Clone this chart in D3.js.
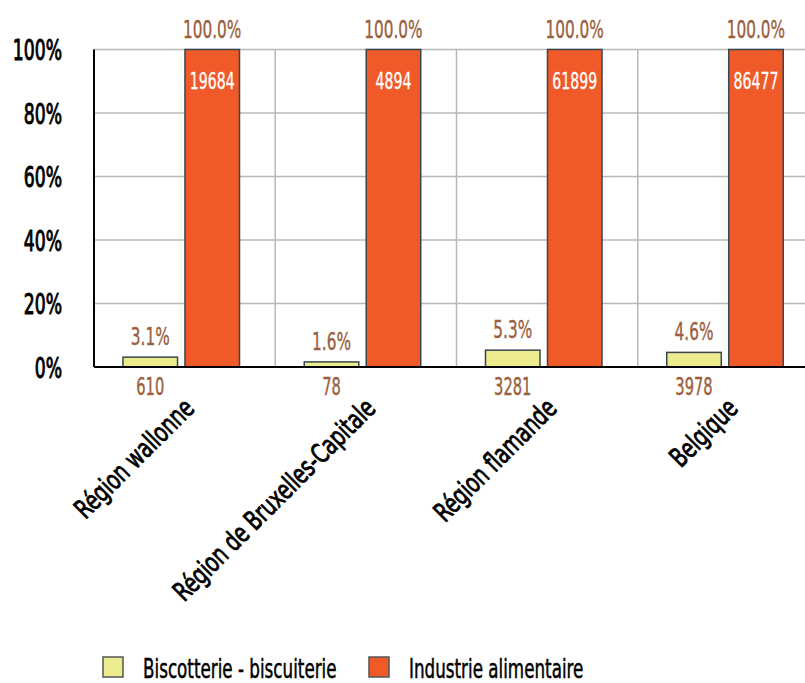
<!DOCTYPE html>
<html>
<head>
<meta charset="utf-8">
<script src="https://cdn.jsdelivr.net/npm/d3@7"></script>
<style>
  html, body { margin: 0; padding: 0; background: #fff; }
  svg { display: block; }
  text { font-family: "DejaVu Sans Condensed", "DejaVu Sans", sans-serif; }
</style>
</head>
<body>
<svg id="chart" width="805" height="683"></svg>
<script>
// Regions and the two series (share of each region's total, in %)
const categories = ["Région wallonne", "Région de Bruxelles-Capitale", "Région flamande", "Belgique"];
const seriesNames = ["Biscotterie - biscuiterie", "Industrie alimentaire"];
const biscuitPct = [3.1, 1.6, 5.3, 4.6];
const foodPct = [100.0, 100.0, 100.0, 100.0];
// Absolute counts printed with the bars
const biscuitCount = [610, 78, 3281, 3978];
const foodCount = [19684, 4894, 61899, 86477];
const yTicks = [0, 20, 40, 60, 80, 100];

const colors = { [seriesNames[0]]: "#ecec8e", [seriesNames[1]]: "#f05a28" };
const barStroke = "#38464f";
const valueColor = "#9a5f3e";

const svg = d3.select("#chart");

const plotLeft = 94, plotRight = 819, plotTop = 49.5, plotBottom = 367;

const y = d3.scaleLinear().domain([0, 100]).range([plotBottom, plotTop]);
const xc = d3.scaleBand().domain(categories).range([plotLeft, plotRight]).padding(0);
const x1 = d3.scaleBand().domain(seriesNames).range([29, 145.5]).paddingInner(0.12);

const rows = categories.map((c, i) => ({
  cat: c,
  values: [
    { s: seriesNames[0], pct: biscuitPct[i], count: biscuitCount[i] },
    { s: seriesNames[1], pct: foodPct[i], count: foodCount[i] }
  ]
}));

// helper: horizontally condensed text placed at (x, y)
function ctext(sel, x, yy, str, opts = {}) {
  const rot = opts.rotate ? ` rotate(${opts.rotate})` : "";
  const sx = opts.squeeze || 0.68;
  const fill = opts.fill || "#000";
  const t = sel.append("text")
    .attr("transform", `translate(${x},${yy})${rot} scale(${sx},1)`)
    .attr("text-anchor", opts.anchor || "middle")
    .attr("font-size", opts.size || 24)
    .attr("fill", fill)
    .text(str);
  if (opts.heavy) {
    t.attr("stroke", fill).attr("stroke-width", opts.heavy).attr("stroke-linejoin", "round");
  }
  return t;
}

// Grid
const grid = svg.append("g");
grid.selectAll("line.h").data(yTicks.filter(t => t > 0)).join("line")
  .attr("x1", plotLeft).attr("x2", 805)
  .attr("y1", d => y(d)).attr("y2", d => y(d))
  .attr("stroke", "#b8b8b8").attr("stroke-width", 1.5);
grid.selectAll("line.v").data(categories.slice(1)).join("line")
  .attr("x1", d => xc(d)).attr("x2", d => xc(d))
  .attr("y1", plotTop).attr("y2", plotBottom)
  .attr("stroke", "#b8b8b8").attr("stroke-width", 1.5);

// Y axis labels
const yl = svg.append("g");
yTicks.forEach(t => ctext(yl, 62, y(t) + 10.5, t + "%",
  { anchor: "end", size: 29, squeeze: 0.66, heavy: 1 }));

// Bars
const groups = svg.append("g").selectAll("g").data(rows).join("g")
  .attr("transform", d => `translate(${xc(d.cat)},0)`);

groups.selectAll("rect").data(d => d.values).join("rect")
  .attr("x", d => x1(d.s))
  .attr("width", x1.bandwidth())
  .attr("y", d => y(d.pct))
  .attr("height", d => y(0) - y(d.pct))
  .attr("fill", d => colors[d.s])
  .attr("stroke", barStroke)
  .attr("stroke-width", 1.5);

// Labels
groups.each(function (d) {
  const g = d3.select(this);
  d.values.forEach(v => {
    const cx = x1(v.s) + x1.bandwidth() / 2;
    ctext(g, cx, y(v.pct) - 12, v.pct.toFixed(1) + "%", { size: 25, fill: valueColor, heavy: 0.4 });
    if (v.s === seriesNames[1]) {
      ctext(g, cx, y(v.pct) + 39.5, v.count, { size: 23, fill: "#fff", heavy: 0.3 });
    } else {
      ctext(g, cx, 395, v.count, { size: 24, fill: valueColor, heavy: 0.4 });
    }
  });
});

// Axis lines
svg.append("line").attr("x1", plotLeft).attr("x2", plotLeft).attr("y1", plotTop).attr("y2", plotBottom)
  .attr("stroke", "#000").attr("stroke-width", 2);
svg.append("line").attr("x1", plotLeft).attr("x2", 805).attr("y1", plotBottom).attr("y2", plotBottom)
  .attr("stroke", "#000").attr("stroke-width", 2);

// Category labels
const cl = svg.append("g");
categories.forEach(c => {
  ctext(cl, xc(c) + xc.bandwidth() / 2 + 11, 410, c,
    { anchor: "end", size: 27, rotate: -45, squeeze: 0.78, heavy: 0.9 });
});

// Legend
const legend = svg.append("g");
const legendX = [103, 369];
seriesNames.forEach((s, i) => {
  legend.append("rect")
    .attr("x", legendX[i]).attr("y", 657)
    .attr("width", 20).attr("height", 20)
    .attr("fill", colors[s]).attr("stroke", "#555").attr("stroke-width", 1.5);
  ctext(legend, legendX[i] + 40, 678, s, { anchor: "start", size: 27, squeeze: 0.69, heavy: 0.5 });
});
</script>
</body>
</html>
